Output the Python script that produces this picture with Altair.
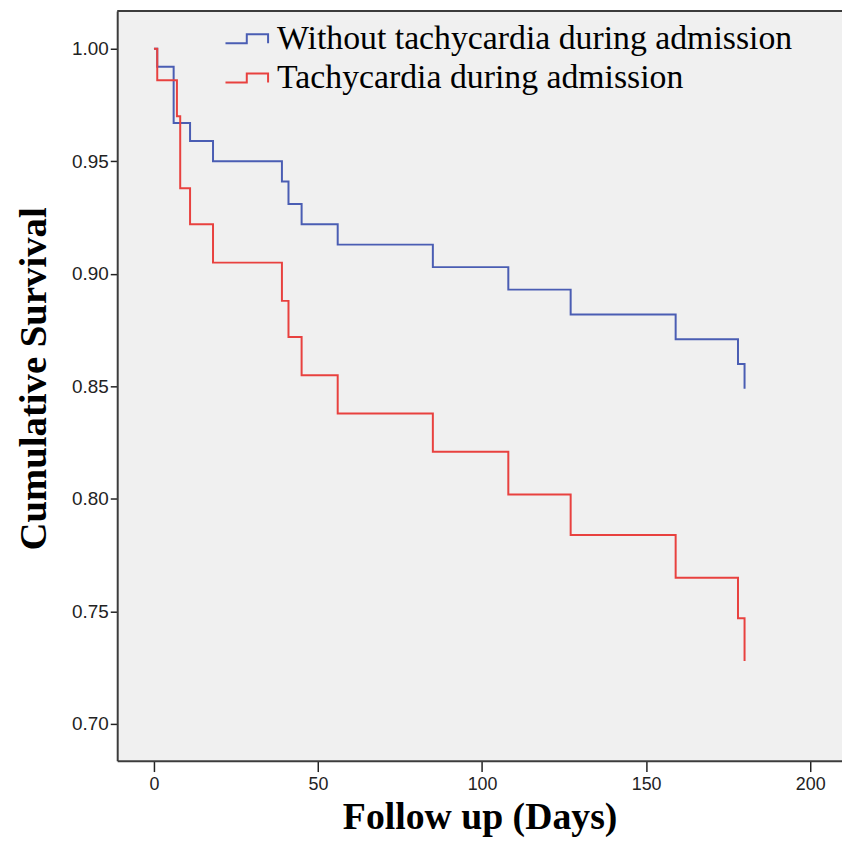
import altair as alt
import pandas as pd

# Kaplan-Meier step values
blue_days = [0, 1, 6, 11, 18, 39, 41, 45, 56, 85, 108, 127, 159, 178, 180]
blue_surv = [1.000, 0.992, 0.967, 0.959, 0.950, 0.941, 0.931, 0.922, 0.913,
             0.903, 0.893, 0.882, 0.871, 0.860, 0.849]
red_days = [0, 1, 7, 8, 11, 18, 39, 41, 45, 56, 85, 108, 127, 159, 178, 180]
red_surv = [1.000, 0.986, 0.970, 0.938, 0.922, 0.905, 0.888, 0.872, 0.855,
            0.838, 0.821, 0.802, 0.784, 0.765, 0.747, 0.728]
groups = ["Without tachycardia during admission", "Tachycardia during admission"]
colors = ["#4a5db3", "#e8413f"]
x_ticks = [0, 50, 100, 150, 200]
y_ticks = [0.70, 0.75, 0.80, 0.85, 0.90, 0.95, 1.00]

rows = []
for d, s in zip(blue_days, blue_surv):
    rows.append({"day": d, "surv": s, "group": groups[0]})
for d, s in zip(red_days, red_surv):
    rows.append({"day": d, "surv": s, "group": groups[1]})
df = pd.DataFrame(rows)

FRAME = "#3c3c3c"
X_DOMAIN = [-11.2, 209.7]
Y_DOMAIN = [0.6837, 1.0168]

lines = alt.Chart(df).mark_line(interpolate="step-after", strokeWidth=2).encode(
    x=alt.X("day:Q",
            scale=alt.Scale(domain=X_DOMAIN, nice=False, zero=False),
            axis=alt.Axis(values=x_ticks, title="Follow up (Days)", grid=False,
                          domain=True, domainColor=FRAME, domainWidth=2,
                          tickSize=11, tickColor="#222", tickWidth=1.5,
                          labelFont="Liberation Sans", labelFontSize=18,
                          labelColor="#222", labelPadding=4,
                          titleFont="Liberation Serif", titleFontSize=38,
                          titleFontWeight="bold", titleColor="black",
                          titleX=365, titleY=68, titleBaseline="alphabetic",
                          titleAlign="center")),
    y=alt.Y("surv:Q",
            scale=alt.Scale(domain=Y_DOMAIN, nice=False, zero=False),
            axis=alt.Axis(values=y_ticks, format=".2f", title="Cumulative Survival",
                          grid=False, domain=True, domainColor=FRAME, domainWidth=2,
                          tickSize=7, tickColor="#222", tickWidth=1.5,
                          labelFont="Liberation Sans", labelFontSize=19,
                          labelColor="#222", labelPadding=2,
                          titleFont="Liberation Serif", titleFontSize=39,
                          titleFontWeight="bold", titleColor="black",
                          titleX=-84, titleY=370, titleAngle=270,
                          titleBaseline="middle", titleAlign="center")),
    color=alt.Color("group:N",
                    scale=alt.Scale(domain=groups, range=colors),
                    legend=alt.Legend(title=None, orient="none", legendX=113.5, legendY=11,
                                      symbolType="M-1.43,0.3L0,0.3L0,-0.3L1.43,-0.3L1.43,0.3",
                                      symbolSize=900, symbolStrokeWidth=2,
                                      symbolFillColor="transparent",
                                      labelFont="Liberation Serif", labelFontSize=34,
                                      labelColor="black", labelOffset=13.5,
                                      rowPadding=5.5, padding=0, labelLimit=0)),
)

top_border = alt.Chart(pd.DataFrame({"a": [0]})).mark_rule(
    color=FRAME, strokeWidth=2).encode(y=alt.value(0))

chart = alt.layer(lines, top_border).properties(
    width=730, height=755,
    autosize=alt.AutoSizeParams(type="none"),
    padding={"left": 110, "top": 0, "right": 0, "bottom": 93},
    background="white",
).configure_view(fill="#f0f0f0", stroke=None)

chart.save("out.html", embed_options={"renderer": "svg", "actions": False})
